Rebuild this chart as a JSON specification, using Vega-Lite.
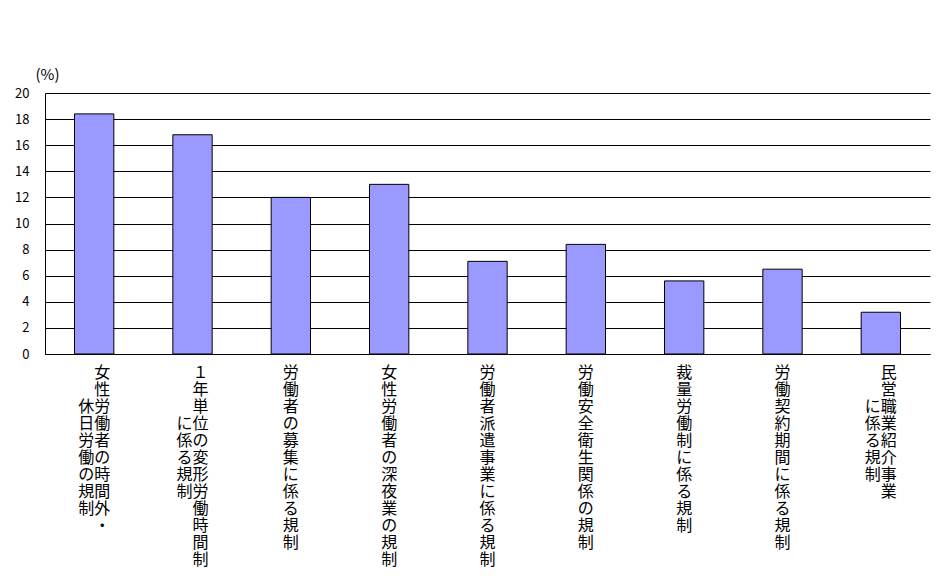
{
  "$schema": "https://vega.github.io/schema/vega-lite/v6.json",
  "width": 885,
  "height": 261,
  "autosize": "none",
  "padding": {"left": 45, "top": 93, "right": 14, "bottom": 233},
  "background": "white",
  "config": {"view": {"stroke": null}, "font": "Noto Sans CJK JP"},
  "data": {
    "values": [
      {"規制": "女性労働者の時間外・休日労働の規制", "割合": 18.4},
      {"規制": "1年単位の変形労働時間制に係る規制", "割合": 16.8},
      {"規制": "労働者の募集に係る規制", "割合": 12.0},
      {"規制": "女性労働者の深夜業の規制", "割合": 13.0},
      {"規制": "労働者派遣事業に係る規制", "割合": 7.1},
      {"規制": "労働安全衛生関係の規制", "割合": 8.4},
      {"規制": "裁量労働制に係る規制", "割合": 5.6},
      {"規制": "労働契約期間に係る規制", "割合": 6.5},
      {"規制": "民営職業紹介事業に係る規制", "割合": 3.2}
    ]
  },
  "mark": {"type": "bar", "fill": "#9999FF", "stroke": "#000000", "strokeWidth": 1},
  "encoding": {
    "x": {
      "field": "規制",
      "type": "nominal",
      "sort": null,
      "scale": {"paddingInner": 0.6, "paddingOuter": 0.3},
      "axis": {
        "title": null,
        "ticks": false,
        "tickSize": 0,
        "domain": true,
        "domainColor": "#000000",
        "domainWidth": 1,
        "labelAngle": 0,
        "labelAlign": "center",
        "labelBaseline": "top",
        "labelFont": "Noto Sans CJK JP",
        "labelFontSize": 16,
        "labelLineHeight": 17,
        "labelPadding": 10,
        "labelColor": "#000000",
        "labelOverlap": false,
        "labelBound": false,
        "labelLimit": 1000,
        "labelExpr": "datum.label == '女性労働者の時間外・休日労働の規制' ? ['\u200B　女','\u200B　性','休労','日働','労者','働の','の時','規間','制外','\u200B　・'] : datum.label == '1年単位の変形労働時間制に係る規制' ? ['\u200B　１','\u200B　年','\u200B　単','に位','係の','る変','規形','制労','\u200B　働','\u200B　時','\u200B　間','\u200B　制'] : datum.label == '民営職業紹介事業に係る規制' ? ['\u200B　民','\u200B　営','に職','係業','る紹','規介','制事','\u200B　業'] : split(datum.label, '')"
      }
    },
    "y": {
      "field": "割合",
      "type": "quantitative",
      "scale": {"domain": [0, 20], "nice": false, "zero": true},
      "axis": {
        "title": "(%)",
        "titleAngle": 0,
        "titleAlign": "left",
        "titleBaseline": "alphabetic",
        "titleX": -10,
        "titleY": -14,
        "titleFont": "Noto Sans CJK JP",
        "titleFontSize": 15,
        "titleFontWeight": "normal",
        "titleColor": "#000000",
        "values": [0, 2, 4, 6, 8, 10, 12, 14, 16, 18, 20],
        "grid": true,
        "gridColor": "#000000",
        "gridOpacity": 1,
        "gridWidth": 1,
        "domain": true,
        "domainColor": "#000000",
        "domainWidth": 1,
        "ticks": false,
        "tickSize": 0,
        "labelPadding": 16,
        "labelFont": "Noto Sans CJK JP",
        "labelFontSize": 13,
        "labelColor": "#000000",
        "labelAlign": "right",
        "labelBaseline": "middle"
      }
    }
  }
}
